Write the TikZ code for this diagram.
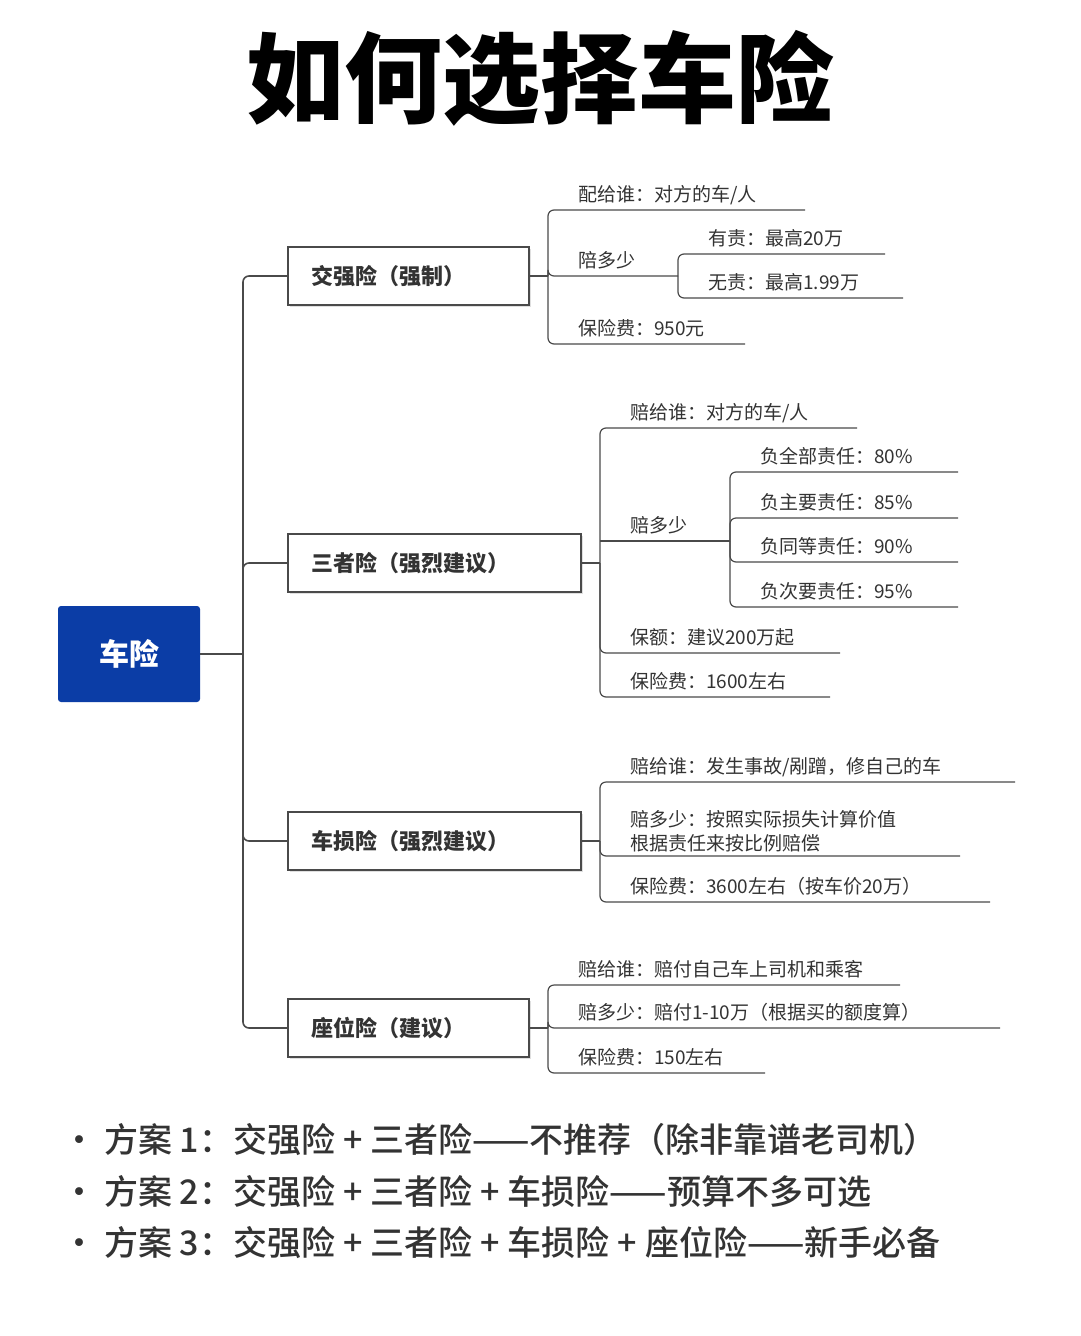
\documentclass[tikz,border=0pt]{standalone}
\usepackage{fontspec}
\setmainfont{Noto Sans CJK SC}
\newfontfamily\cjkb{Noto Sans CJK SC Black}
\newfontfamily\cjkm{Noto Sans CJK SC Medium}
\usetikzlibrary{shadows}
\definecolor{rootblue}{HTML}{0B3DA6}
\definecolor{linegray}{HTML}{4A4A4A}
\definecolor{txt}{HTML}{333333}
\tikzset{
  branchbox/.style={draw=linegray,line width=1.6pt,fill=white,minimum height=58pt,anchor=west,inner xsep=24pt,align=left,font=\fontsize{22}{24}\selectfont\bfseries,text=txt,drop shadow={shadow xshift=2pt,shadow yshift=-2pt,opacity=.25}},
  leaftext/.style={anchor=base west,inner sep=0pt,font=\fontsize{19}{24}\selectfont,text=txt,align=left},
  conn/.style={draw=linegray,line width=1.6pt,rounded corners=6pt},
  leafline/.style={draw=linegray,line width=1.2pt,rounded corners=6pt},
  bullet/.style={anchor=base west,inner sep=0pt,font=\cjkm\fontsize{34}{36}\selectfont,text=txt}
}
\newcommand{\pl}{\hspace{8pt}+\hspace{8pt}}
% \leafitem{bracket x}{mid y}{line y}{line end x}{text}{name}
\newcommand{\leafitem}[6]{%
  \draw[leafline] (#1,#2) |- (#4,#3) coordinate (#6e);
  \node[leaftext] (#6) at (#1+30,#3-9) {#5};
}
\begin{document}
\begin{tikzpicture}[x=1pt,y=-1pt]
\useasboundingbox (0,0) rectangle (1080,1336);
\fill[white] (0,0) rectangle (1080,1336);
\node[font=\cjkb\fontsize{98}{100}\selectfont,text=black] (title) at (540,78) {如何选择车险};
\node[fill=rootblue,text=white,rounded corners=3pt,minimum width=142pt,minimum height=96pt,font=\fontsize{30}{32}\selectfont\bfseries] (root) at (129,654) {车险};
\coordinate (trunk) at (243,654);
\draw[conn] (root.east) -- (trunk);
\node[branchbox,text width=193pt] (b1) at (287,276) {交强险（强制）};
\node[branchbox,text width=245pt] (b2) at (287,563) {三者险（强烈建议）};
\node[branchbox,text width=245pt] (b3) at (287,841) {车损险（强烈建议）};
\node[branchbox,text width=193pt] (b4) at (287,1028) {座位险（建议）};
\foreach \b in {b1,b2,b3,b4} \draw[conn] (trunk) |- (\b.west);
% branch 1
\draw[leafline] (b1.east) -- (548,276);
\leafitem{548}{276}{210}{805}{配给谁：对方的车/人}{a1}
\leafitem{548}{276}{276}{678}{陪多少}{a2}
\leafitem{548}{276}{344}{745}{保险费：950元}{a3}
\leafitem{678}{276}{254}{885}{有责：最高20万}{a4}
\leafitem{678}{276}{298}{903}{无责：最高1.99万}{a5}
% branch 2
\draw[leafline] (b2.east) -- (600,563);
\leafitem{600}{563}{428}{857}{赔给谁：对方的车/人}{c1}
\draw[leafline] (600,541) -- (730,541) coordinate (c2e);
\node[leaftext] (c2) at (630,532) {赔多少};
\leafitem{600}{563}{653}{840}{保额：建议200万起}{c3}
\leafitem{600}{563}{697}{830}{保险费：1600左右}{c4}
\leafitem{730}{541}{472}{958}{负全部责任：80\%}{c5}
\leafitem{730}{541}{518}{958}{负主要责任：85\%}{c6}
\leafitem{730}{541}{562}{958}{负同等责任：90\%}{c7}
\leafitem{730}{541}{607}{958}{负次要责任：95\%}{c8}
% branch 3
\draw[leafline] (b3.east) -- (600,841);
\leafitem{600}{841}{782}{1015}{赔给谁：发生事故/剐蹭，修自己的车}{d1}
\draw[leafline] (600,841) |- (960,856) coordinate (d2e);
\node[leaftext,anchor=south west] (d2) at (630,852) {赔多少：按照实际损失计算价值\\根据责任来按比例赔偿};
\leafitem{600}{841}{902}{990}{保险费：3600左右（按车价20万）}{d3}
% branch 4
\draw[leafline] (b4.east) -- (548,1028);
\leafitem{548}{1028}{985}{900}{赔给谁：赔付自己车上司机和乘客}{e1}
\leafitem{548}{1028}{1028}{1000}{赔多少：赔付1-10万（根据买的额度算）}{e2}
\leafitem{548}{1028}{1073}{765}{保险费：150左右}{e3}
% bullets
\node[bullet] (p1) at (62,1152) {•\hspace{8pt}方案 1：交强险\pl 三者险——不推荐（除非靠谱老司机）};
\node[bullet] (p2) at (62,1204) {•\hspace{8pt}方案 2：交强险\pl 三者险\pl 车损险——预算不多可选};
\node[bullet] (p3) at (62,1255) {•\hspace{8pt}方案 3：交强险\pl 三者险\pl 车损险\pl 座位险——新手必备};
\end{tikzpicture}
\end{document}
